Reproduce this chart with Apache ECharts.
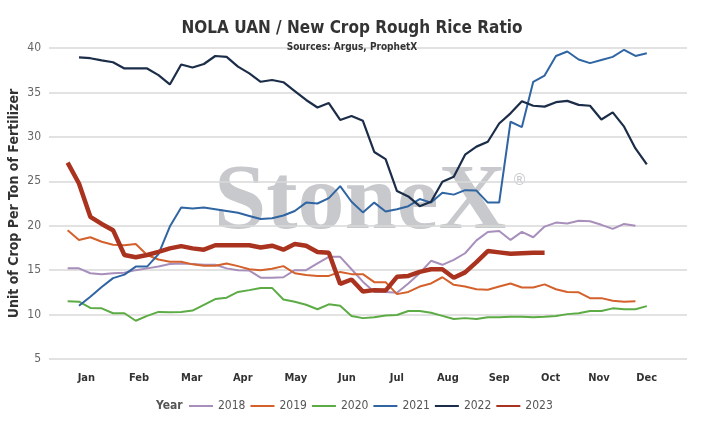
<!DOCTYPE html>
<html>
<head>
<meta charset="utf-8">
<script src="https://cdn.jsdelivr.net/npm/echarts@6/dist/echarts.min.js"></script>
<style>
  html, body { margin: 0; padding: 0; background: #fff; }
  #main { width: 704px; height: 423px; }
</style>
</head>
<body>
<div id="main"></div>
<script>
// weekly ratios, week 0 = first week of Jan (some years start one week earlier)
const years = ["2018", "2019", "2020", "2021", "2022", "2023"];
const firstWeek = [-1, -1, -1, 0, 0, -1];

const ratio2018 = [15.2, 15.2, 14.65, 14.55, 14.65, 14.7, 15.0, 15.2, 15.4, 15.7, 15.75, 15.7, 15.6, 15.6, 15.2, 15.0, 14.95, 14.15, 14.15, 14.2, 15.0, 15.0, 15.75, 16.5, 16.5, 15.1, 13.7, 12.55, 12.55, 12.45, 13.5, 14.65, 16.05, 15.6, 16.15, 16.9, 18.35, 19.3, 19.4, 18.4, 19.3, 18.7, 19.9, 20.35, 20.25, 20.55, 20.5, 20.1, 19.65, 20.2, 20.0];
const ratio2019 = [19.5, 18.4, 18.7, 18.2, 17.85, 17.8, 17.95, 16.7, 16.2, 15.95, 15.95, 15.65, 15.5, 15.5, 15.75, 15.45, 15.1, 15.0, 15.15, 15.45, 14.65, 14.45, 14.35, 14.35, 14.8, 14.55, 14.55, 13.65, 13.65, 12.3, 12.55, 13.15, 13.5, 14.2, 13.35, 13.15, 12.85, 12.8, 13.15, 13.5, 13.05, 13.05, 13.4, 12.85, 12.55, 12.5, 11.85, 11.85, 11.55, 11.45, 11.5];
const ratio2020 = [11.5, 11.45, 10.75, 10.7, 10.15, 10.15, 9.3, 9.85, 10.3, 10.25, 10.3, 10.45, 11.1, 11.75, 11.9, 12.55, 12.75, 13.0, 13.0, 11.7, 11.45, 11.1, 10.6, 11.15, 11.0, 9.85, 9.6, 9.7, 9.9, 9.95, 10.4, 10.4, 10.2, 9.85, 9.5, 9.6, 9.5, 9.7, 9.7, 9.75, 9.75, 9.7, 9.75, 9.85, 10.05, 10.15, 10.4, 10.4, 10.7, 10.6, 10.6, 10.95];
const ratio2021 = [11.0, 12.0, 13.1, 14.1, 14.5, 15.4, 15.4, 16.8, 19.9, 22.05, 21.95, 22.05, 21.85, 21.65, 21.45, 21.1, 20.75, 20.85, 21.15, 21.65, 22.6, 22.5, 23.1, 24.45, 22.7, 21.5, 22.6, 21.6, 21.85, 22.2, 23.0, 22.6, 23.7, 23.5, 24.0, 23.95, 22.6, 22.6, 31.7, 31.1, 36.2, 36.9, 39.1, 39.6, 38.7, 38.3, 38.65, 39.0, 39.8, 39.1, 39.4];
const ratio2022 = [38.95, 38.85, 38.6, 38.4, 37.7, 37.7, 37.7, 36.95, 35.9, 38.15, 37.8, 38.2, 39.1, 39.0, 37.9, 37.15, 36.2, 36.4, 36.15, 35.15, 34.15, 33.3, 33.8, 31.9, 32.35, 31.8, 28.3, 27.5, 23.9, 23.3, 22.2, 22.7, 24.95, 25.5, 28.0, 28.9, 29.45, 31.5, 32.65, 34.0, 33.5, 33.4, 33.9, 34.05, 33.6, 33.5, 31.95, 32.75, 31.15, 28.7, 26.9];
const ratio2023 = [27.1, 24.75, 21.0, 20.2, 19.5, 16.7, 16.45, 16.7, 17.05, 17.45, 17.7, 17.45, 17.3, 17.8, 17.8, 17.8, 17.8, 17.55, 17.75, 17.3, 17.95, 17.75, 17.05, 16.95, 13.45, 13.95, 12.6, 12.75, 12.7, 14.25, 14.35, 14.8, 15.1, 15.1, 14.15, 14.75, 15.9, 17.15, 17.0, 16.85, 16.9, 16.95, 16.95];

const months = ["Jan", "Feb", "Mar", "Apr", "May", "Jun", "Jul", "Aug", "Sep", "Oct", "Nov", "Dec"];
const monthWeek = [0.65, 5.29, 9.93, 14.42, 19.09, 23.59, 27.99, 32.48, 37.0, 41.53, 45.79, 49.99];

const allRatios = [ratio2018, ratio2019, ratio2020, ratio2021, ratio2022, ratio2023];
const colors = ["#a88fbb", "#d4612b", "#5cab45", "#2f65a2", "#1b2d48", "#a9331f"];
const widths = [2, 2, 2, 2, 2.2, 4.5];

const FONT = "'DejaVu Sans Condensed', 'DejaVu Sans', sans-serif";

var chart = echarts.init(document.getElementById("main"));

var series = years.map(function (y, i) {
  return {
    name: y,
    type: "line",
    symbol: "none",
    color: colors[i],
    lineStyle: { width: widths[i], color: colors[i] },
    z: 2 + i,
    data: allRatios[i].map(function (v, j) {
      return [firstWeek[i] + j, v];
    })
  };
});

var option = {
  animation: false,
  backgroundColor: "#fff",
  title: {
    text: "NOLA UAN / New Crop Rough Rice Ratio",
    subtext: "Sources: Argus, ProphetX",
    left: "center",
    top: 15,
    itemGap: 5,
    textStyle: { fontFamily: FONT, fontSize: 17, fontWeight: "bold", color: "#333" },
    subtextStyle: { fontFamily: FONT, fontSize: 10, fontWeight: "bold", color: "#333" }
  },
  grid: { left: 49, right: 17, top: 48, bottom: 64, containLabel: false, outerBoundsMode: "none" },
  legend: {
    data: years,
    left: 189,
    top: 400,
    padding: 0,
    icon: "rect",
    itemWidth: 24,
    itemHeight: 2,
    itemGap: 5,
    textStyle: { fontFamily: FONT, fontSize: 12, color: "#555" }
  },
  xAxis: {
    type: "value",
    min: -2.64,
    max: 53.54,
    axisLine: { show: false },
    axisTick: { show: false },
    splitLine: { show: false },
    axisLabel: {
      customValues: monthWeek,
      margin: 14,
      fontFamily: FONT,
      fontSize: 11,
      fontWeight: "bold",
      color: "#333",
      formatter: function (v) {
        return months[monthWeek.indexOf(v)] || "";
      }
    }
  },
  yAxis: {
    type: "value",
    min: 5,
    max: 40,
    interval: 5,
    name: "Unit of Crop Per Ton of Fertilizer",
    nameLocation: "middle",
    nameGap: 28,
    nameMoveOverlap: false,
    nameTextStyle: { fontFamily: FONT, fontSize: 14, fontWeight: "bold", color: "#333" },
    axisLine: { show: false },
    axisTick: { show: false },
    axisLabel: { margin: 8, fontFamily: FONT, fontSize: 12, color: "#666" },
    splitLine: { lineStyle: { color: "#d9d9d9", width: 1.5 } }
  },
  graphic: [
    {
      type: "text",
      left: 214,
      top: 157,
      z: 0,
      silent: true,
      style: {
        text: "StoneX",
        fontFamily: "'Liberation Serif', 'DejaVu Serif', serif",
        fontWeight: "bold",
        fontSize: 94,
        fill: "#c8c9cc"
      }
    },
    {
      type: "text",
      left: 512,
      top: 174,
      z: 0,
      silent: true,
      style: { text: "®", fontFamily: "'DejaVu Sans', sans-serif", fontSize: 15, fill: "#c8c9cc" }
    },
    {
      type: "text",
      left: 156,
      top: 400,
      style: { text: "Year", fontFamily: FONT, fontSize: 12, fontWeight: "bold", fill: "#555" }
    }
  ],
  series: series
};

chart.setOption(option);
</script>
</body>
</html>
